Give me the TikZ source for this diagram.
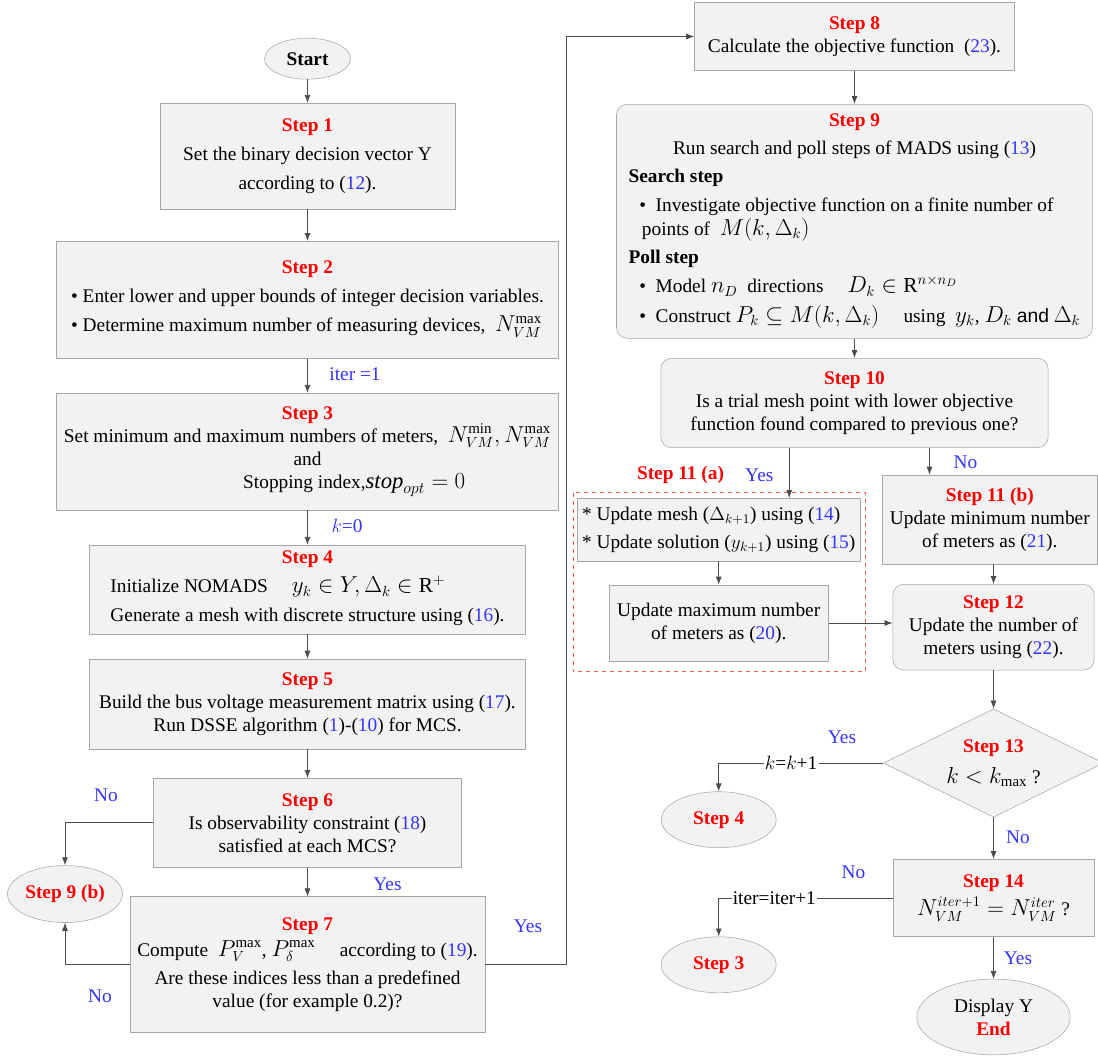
\documentclass[tikz,border=0pt]{standalone}
\usepackage{amsmath}
\usepackage{amssymb}
\usepackage{fontspec}
\setmainfont{Liberation Serif}
\setsansfont{Liberation Sans}
\usetikzlibrary{arrows.meta}
\usetikzlibrary{shapes, calc}

\definecolor{stepred}{RGB}{255,0,0}
\definecolor{refblue}{RGB}{51,51,255}
\definecolor{boxfill}{RGB}{242,242,242}
\definecolor{boxline}{RGB}{166,166,166}
\newcommand{\stp}[1]{\textcolor{stepred}{\bfseries #1}}
\newcommand{\eqn}[1]{\textcolor{refblue}{#1}}
\newcommand{\mth}[1]{{\fontsize{16}{17.5}\selectfont$#1$}}

\begin{document}
\begin{tikzpicture}[x=0.75pt,y=-0.75pt,>={Latex[length=6pt,width=4.5pt]},line join=bevel,
  font={\fontsize{14.5}{17.25}\selectfont},
  box/.style={draw=boxline,fill=boxfill,align=center,inner sep=2pt},
  rbox/.style={box,rounded corners=8pt},
  oval/.style={ellipse,draw=boxline,fill=boxfill,align=center,inner sep=0pt},
  sz/.style 2 args={minimum width=#1*0.75pt,minimum height=#2*0.75pt},
  lbl/.style={text=refblue},
  conn/.style={draw=black!70,line width=0.6pt}]
%%
\useasboundingbox (0,0) rectangle (1098,1057);
\node (start) at (307.5,58.7) [oval,sz={86}{41}] {\bfseries Start};
  \node (step_1) at (307.5,156) [box,sz={295}{105.6}] {\stp{Step 1}\\[4.5pt] Set the binary decision vector Y\\[4.5pt] according to (\eqn{12}).};
  \node (step_2) at (307.5,299.8) [box,sz={502}{117}] {\stp{Step 2}\\[4.5pt]
    \begin{tabular}[t]{@{}l@{}}\textbullet\ Enter lower and upper bounds of integer decision variables.\\[4.5pt]
    \textbullet\ Determine maximum number of measuring devices, \ \mth{N_{VM}^{\max}}\end{tabular}};
  \node (step_3) at (307.5,451.7) [box,sz={502}{117}] {\stp{Step 3}\\ Set minimum and maximum numbers of meters, \ \mth{N_{VM}^{\min},N_{VM}^{\max}}\\ and\\ \hspace*{70pt}Stopping index,{\fontsize{17}{17.5}\selectfont$\mathit{stop}_{opt}=0$}};
  \node (step_4) at (307.5,589.7) [box,sz={436}{89}] {\stp{Step 4}\\[4.5pt]
    \begin{tabular}[t]{@{}l@{}}Initialize NOMADS \quad \mth{y_k\in Y,\Delta_k\in\mathrm{R}^+}\\[4.5pt]
    Generate a mesh with discrete structure using (\eqn{16}).\end{tabular}};
  \node (step_5) at (307.5,704) [box,sz={436}{90}] {\stp{Step 5}\\ Build the bus voltage measurement matrix using (\eqn{17}).\\ Run DSSE algorithm (\eqn{1})-(\eqn{10}) for MCS.};
  \node (step_6) at (307.5,822.8) [box,sz={307.5}{89}] {\stp{Step 6}\\ Is observability constraint (\eqn{18})\\ satisfied at each MCS?};
  \node (step_7) at (307.5,964.5) [box,sz={355}{135.6}] {\stp{Step 7}\\[2pt] Compute \ \mth{P_V^{\max}}, \mth{P_\delta^{\max}} \quad according to (\eqn{19}).\\[4pt] Are these indices less than a predefined\\ value (for example 0.2)?};
  \node (step_9b) at (65,894) [oval,sz={115}{57}] {\stp{Step 9 (b)}};
  \node (step_8) at (854.5,36.5) [box,sz={320}{67.6}] {\stp{Step 8}\\ Calculate the objective function \ (\eqn{23}).};
  \node (step_9) at (854.5,221.3) [rbox,sz={476}{234}] {\stp{Step 9}\\[4pt] Run search and poll steps of MADS using (\eqn{13})\\[4pt]
    \begin{tabular}[t]{@{}l@{}}\bfseries Search step\\[4pt]
    \hspace*{8pt}\textbullet\ \ Investigate objective function on a finite number of\\
    \hspace*{10pt}points of \ \mth{M(k,\Delta_k)}\\[4pt]
    \bfseries Poll step\\[4pt]
    \hspace*{8pt}\textbullet\ \ Model \mth{n_D} \ directions \quad \mth{D_k\in\mathrm{R}^{n\times n_D}}\\[4pt]
    \hspace*{8pt}\textbullet\ \ Construct \mth{P_k\subseteq M(k,\Delta_k)} \quad using \ \mth{y_k}, \mth{D_k} \textsf{and} \mth{\Delta_k}\end{tabular}};
  \node (step_10) at (854.5,403) [rbox,sz={387.4}{89.4}] {\stp{Step 10}\\ Is a trial mesh point with lower objective\\ function found compared to previous one?};
  \node (upd) at (718.7,529.7) [box,sz={283}{62.7}] {\begin{tabular}{@{}l@{}}* Update mesh ($\Delta_{k+1}$) using (\eqn{14})\\[4pt] * Update solution ($y_{k+1}$) using (\eqn{15})\end{tabular}};
  \node (upd_max) at (718.7,623) [box,sz={219.5}{76}] {Update maximum number\\ of meters as (\eqn{20}).};
  \node (step_11b) at (989.8,519.5) [box,sz={214.5}{89}] {\stp{Step 11 (b)}\\ Update minimum number\\ of meters as (\eqn{21}).};
  \node (step_12) at (993.5,627.2) [rbox,sz={201.4}{85.7}] {\stp{Step 12}\\ Update the number of\\ meters using (\eqn{22}).};
  \node (step_13) at (993.5,763) [diamond,aspect=2,draw=boxline,fill=boxfill,sz={220}{108.3},inner sep=0pt,align=center] {\stp{Step 13}\\[6pt] \mth{k<k_{\max}} ?};
  \node (step_4e) at (718.7,819.7) [oval,sz={115}{56}] {\stp{Step 4}};
  \node (step_14) at (993.5,898) [box,sz={201.4}{77.4}] {\stp{Step 14}\\[4pt] \mth{N_{VM}^{iter+1}=N_{VM}^{iter}} ?};
  \node (step_3e) at (718.7,964.8) [oval,sz={115}{56}] {\stp{Step 3}};
  \node (finish) at (993.5,1017) [oval,sz={153.4}{75.7}] {Display Y\\ \stp{End}};
  \draw [stepred!65,dashed,line width=0.6pt] (573,492.7) rectangle (865.4,671.7);
  \node (lbl_11a) at (680.5,475) {\stp{Step 11 (a)}};
  \node (lbl_iter) at (355,374) [lbl] {iter =1};
  \node (lbl_k) at (347,526) [lbl] {$k$=0};
  \node (no_6) at (106,795) [lbl] {No};
  \node (no_7) at (100,996) [lbl] {No};
  \node (yes_6) at (387.5,884) [lbl] {Yes};
  \node (yes_7) at (528,926) [lbl] {Yes};
  \node (yes_10) at (759.3,475) [lbl] {Yes};
  \node (no_10) at (965.5,462) [lbl] {No};
  \node (yes_13) at (842,737) [lbl] {Yes};
  \node (no_13) at (1018,837) [lbl] {No};
  \node (no_14) at (853.4,872) [lbl] {No};
  \node (yes_14) at (1018,958) [lbl] {Yes};
  \coordinate (loop_top) at (566.2,36.5);
  \coordinate (out_yes) at (789.2,447.7);
  \coordinate (out_no) at (929.5,447.7);
  \draw [conn,->] (start) -- (step_1);
  \draw [conn,->] (step_1) -- (step_2);
  \draw [conn,->] (step_2) -- (step_3);
  \draw [conn,->] (step_3) -- (step_4);
  \draw [conn,->] (step_4) -- (step_5);
  \draw [conn,->] (step_5) -- (step_6);
  \draw [conn,->] (step_6) -- (step_7);
  \draw [conn,->] (step_6.west) -| (step_9b.north);
  \draw [conn,->] (step_7.west) -| (step_9b.south);
  \draw [conn,->] (step_7.east) -| (loop_top) -- (step_8.west);
  \draw [conn,->] (step_8) -- (step_9);
  \draw [conn,->] (step_9) -- (step_10);
  \draw [conn,->] (out_yes) -- (out_yes |- upd.north);
  \draw [conn,->] (out_no) -- (out_no |- step_11b.north);
  \draw [conn,->] (upd) -- (upd_max);
  \draw [conn,->] (upd_max.east) -- (upd_max.east -| step_12.west);
  \draw [conn,->] (step_11b.south -| step_12.north) -- (step_12.north);
  \draw [conn,->] (step_12) -- (step_13);
  \draw [conn,->] (step_13.west) -| node[pos=0.28,fill=white,inner sep=1pt] {$k$=$k$+1} (step_4e.north);
  \draw [conn,->] (step_13) -- (step_14);
  \draw [conn,->] (step_14.west) -| node[pos=0.34,fill=white,inner sep=1pt] {iter=iter+1} (step_3e.north);
  \draw [conn,->] (step_14) -- (finish);
%
\end{tikzpicture}
\end{document}
